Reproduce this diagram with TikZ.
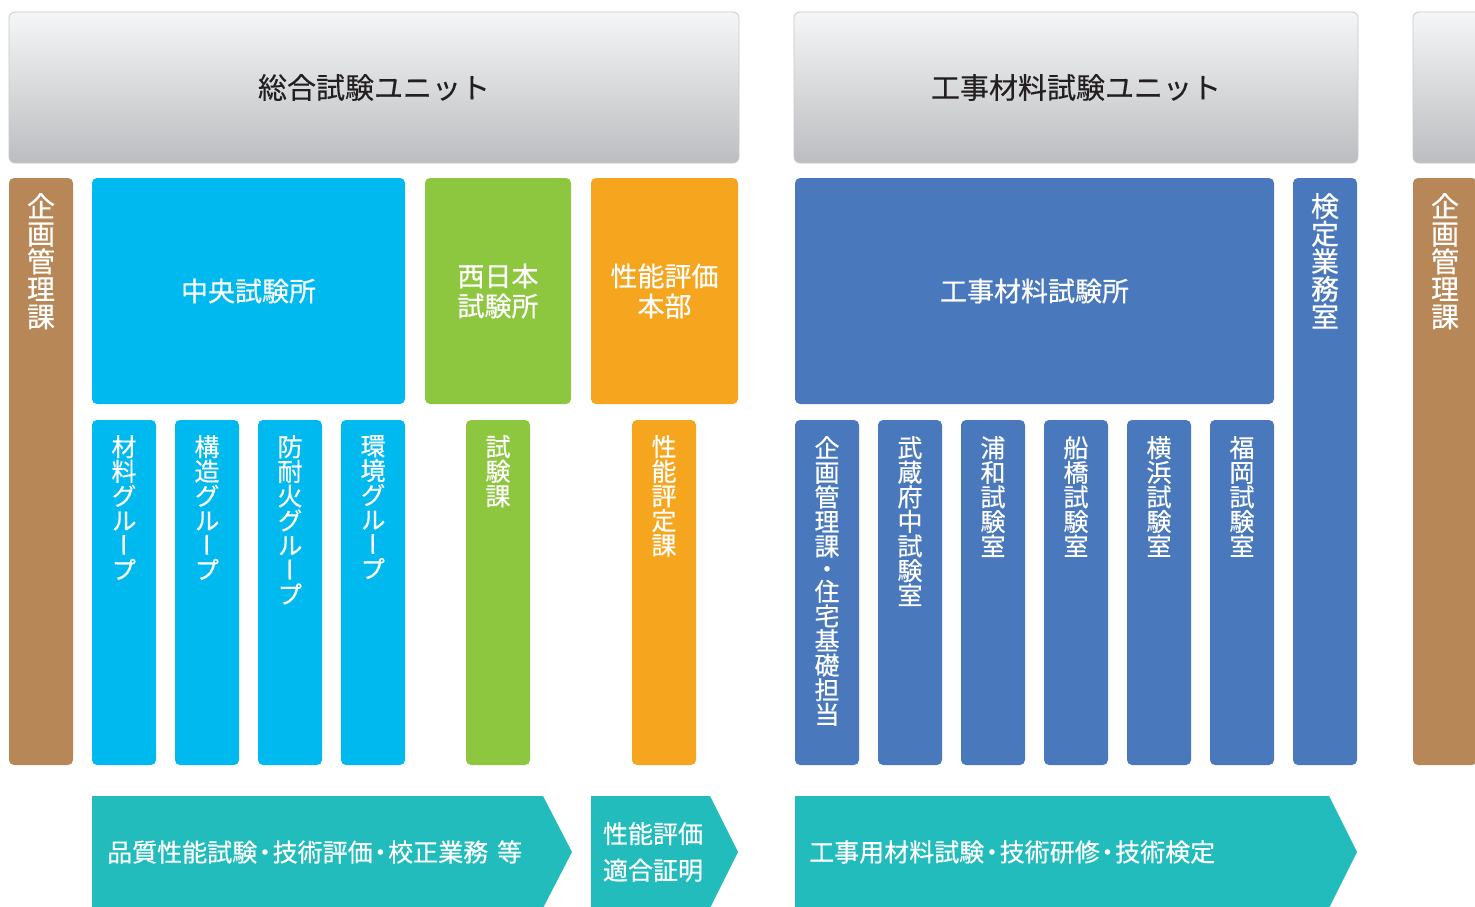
\documentclass[tikz,border=0pt]{standalone}
\usepackage{fontspec}
\setmainfont{Noto Sans CJK JP}
\newfontfamily\wjp[FakeBold=0.5]{Noto Sans CJK JP}
\newfontfamily\vjp[RawFeature=+vert,FakeBold=0.5]{Noto Sans CJK JP}
\newfontfamily\hjp[FakeBold=0.3]{Noto Sans CJK JP}
\newcommand{\hdot}{\makebox[0.62em][c]{・}}
\definecolor{brownB}{HTML}{B88757}
\definecolor{cyanB}{HTML}{00B9EF}
\definecolor{greenB}{HTML}{8DC63F}
\definecolor{orangeB}{HTML}{F6A51E}
\definecolor{blueB}{HTML}{4A78BC}
\definecolor{tealB}{HTML}{22BCBC}
\definecolor{hdrtop}{HTML}{F5F6F7}
\definecolor{hdrbot}{HTML}{BCBDC0}
\definecolor{hdrline}{HTML}{C8C9CB}
\definecolor{hdrtext}{HTML}{231F20}
\tikzset{
  hdr/.style={draw=hdrline, line width=0.8pt, top color=hdrtop, bottom color=hdrbot, rounded corners=6pt,
    minimum height=151pt, inner sep=0pt, text=hdrtext, font=\hjp\fontsize{29}{29}\selectfont},
  colbox/.style={rounded corners=5pt, inner sep=0pt, outer sep=0pt},
  bigbox/.style={colbox, minimum height=226pt, text=white, align=center, font=\wjp\fontsize{27}{30}\selectfont},
  tallbox/.style={colbox, minimum width=64pt, minimum height=587pt},
  smallbox/.style={colbox, minimum width=64pt, minimum height=345pt},
  vtext/.style={anchor=north, inner sep=0pt, text=white, align=center, font=\vjp\fontsize{25}{24.6}\selectfont},
  vtextL/.style={anchor=north, inner sep=0pt, text=white, align=center, font=\vjp\fontsize{28}{27.6}\selectfont},
  arrtext/.style={inner sep=0pt, text=white, font=\wjp\fontsize{25}{25}\selectfont},
}
\begin{document}
\begin{tikzpicture}[x=1pt,y=-1pt]
\useasboundingbox (0,0) rectangle (1475,907);
\clip (0,0) rectangle (1475,907);
\fill[white] (0,0) rectangle (1475,907);

% unit headers
\node[hdr, minimum width=730pt] (u1) at (374,87.5) {総合試験ユニット};
\node[hdr, minimum width=564pt] (u2) at (1076,87.5) {工事材料試験ユニット};
\node[hdr, minimum width=564pt] (u3) at (1695,87.5) {};

% tall side columns
\node[tallbox, fill=brownB] (kL) at (41,471.5) {};
\node[vtextL] (kLt) at ([yshift=-15pt]kL.north) {企\\画\\管\\理\\課};
\node[tallbox, fill=blueB] (ken) at (1325,471.5) {};
\node[vtextL] (kent) at ([yshift=-15pt]ken.north) {検\\定\\業\\務\\室};
\node[tallbox, fill=brownB] (kR) at (1445,471.5) {};
\node[vtextL] (kRt) at ([yshift=-15pt]kR.north) {企\\画\\管\\理\\課};

% big boxes
\node[bigbox, fill=cyanB, minimum width=313pt] (chuo) at (248.5,291) {中央試験所};
\node[bigbox, fill=greenB, minimum width=146pt] (nishi) at (498,291) {西日本\\試験所};
\node[bigbox, fill=orangeB, minimum width=147pt] (seino) at (664.5,291) {性能評価\\本部};
\node[bigbox, fill=blueB, minimum width=479pt] (koji) at (1034.5,291) {工事材料試験所};

% small columns: central lab
\node[smallbox, fill=cyanB] (c1) at (124,592.5) {};
\node[vtext] (c1t) at ([yshift=-15pt]c1.north) {材\\料\\グ\\ル\\ー\\プ};
\node[smallbox, fill=cyanB] (c2) at (207,592.5) {};
\node[vtext] (c2t) at ([yshift=-15pt]c2.north) {構\\造\\グ\\ル\\ー\\プ};
\node[smallbox, fill=cyanB] (c3) at (290,592.5) {};
\node[vtext] (c3t) at ([yshift=-15pt]c3.north) {防\\耐\\火\\グ\\ル\\ー\\プ};
\node[smallbox, fill=cyanB] (c4) at (373,592.5) {};
\node[vtext] (c4t) at ([yshift=-15pt]c4.north) {環\\境\\グ\\ル\\ー\\プ};

% green / orange
\node[smallbox, fill=greenB] (g1) at (498,592.5) {};
\node[vtext] (g1t) at ([yshift=-15pt]g1.north) {試\\験\\課};
\node[smallbox, fill=orangeB] (o1) at (664,592.5) {};
\node[vtext] (o1t) at ([yshift=-15pt]o1.north) {性\\能\\評\\定\\課};

% blue small columns
\node[smallbox, fill=blueB] (b1) at (827,592.5) {};
\node[vtext] (b1t) at ([yshift=-16pt]b1.north) {企\\画\\管\\理\\課\\[-2pt]・\\[-2pt]住\\宅\\基\\礎\\担\\当};
\node[smallbox, fill=blueB] (b2) at (910,592.5) {};
\node[vtext] (b2t) at ([yshift=-16pt]b2.north) {武\\蔵\\府\\中\\試\\験\\室};
\node[smallbox, fill=blueB] (b3) at (993,592.5) {};
\node[vtext] (b3t) at ([yshift=-16pt]b3.north) {浦\\和\\試\\験\\室};
\node[smallbox, fill=blueB] (b4) at (1076,592.5) {};
\node[vtext] (b4t) at ([yshift=-16pt]b4.north) {船\\橋\\試\\験\\室};
\node[smallbox, fill=blueB] (b5) at (1159,592.5) {};
\node[vtext] (b5t) at ([yshift=-16pt]b5.north) {横\\浜\\試\\験\\室};
\node[smallbox, fill=blueB] (b6) at (1242,592.5) {};
\node[vtext] (b6t) at ([yshift=-16pt]b6.north) {福\\岡\\試\\験\\室};

% bottom chevrons
\fill[tealB] (92,796) -- (543,796) -- (572,852) -- (543,908) -- (92,908) -- cycle;
\fill[tealB] (591,796) -- (710,796) -- (738,852) -- (710,908) -- (591,908) -- cycle;
\fill[tealB] (795,796) -- (1329,796) -- (1357,852) -- (1329,908) -- (795,908) -- cycle;
\node[arrtext, anchor=west] (a1) at (107,852) {品質性能試験\hdot 技術評価\hdot 校正業務\hspace{9pt}等};
\node[arrtext, align=center, font=\wjp\fontsize{25}{36.5}\selectfont] (a2) at (653,852) {性能評価\\適合証明};
\node[arrtext, anchor=west] (a3) at (809,852) {工事用材料試験\hdot 技術研修\hdot 技術検定};
\end{tikzpicture}
\end{document}
